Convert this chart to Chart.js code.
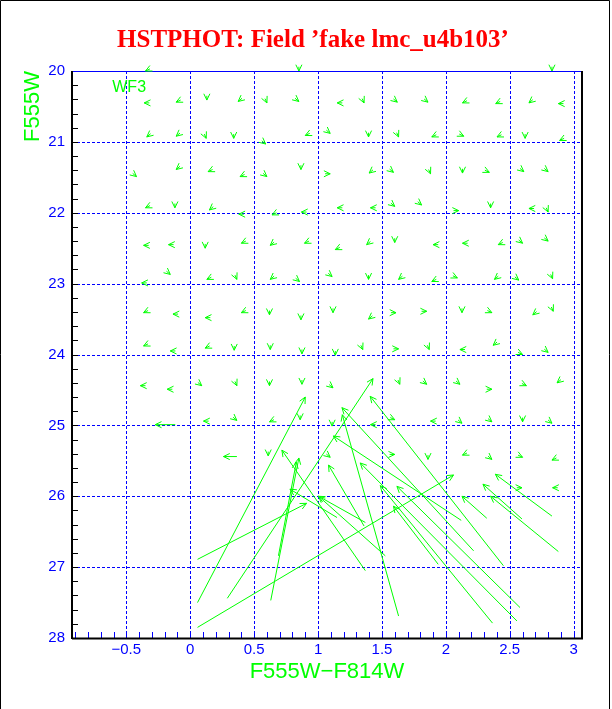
<!DOCTYPE html>
<html><head><meta charset="utf-8">
<script src="https://cdn.jsdelivr.net/npm/chart.js@4/dist/chart.umd.min.js"></script>
<style>html,body{margin:0;padding:0;background:#fff}</style>
</head><body>
<canvas id="c" width="612" height="709"></canvas>
<script>
const chartTitle = "HSTPHOT: Field \u2019fake lmc_u4b103\u2019";
const xTitle = "F555W\u2212F814W";
const yTitle = "F555W";
const chipLabel = "WF3";
const xTicks = [-0.5, 0, 0.5, 1, 1.5, 2, 2.5, 3];
const yTicks = [20, 21, 22, 23, 24, 25, 26, 27, 28];
const gridX = [-0.5, 0, 0.5, 1, 1.5, 2, 2.5, 3];
const gridY = [21, 22, 23, 24, 25, 26, 27];

// input (tail) and recovered (head) positions of the fake stars
const tailX = [-0.315,0.85,2.83,
 -0.32,-0.075,0.13,0.405,0.585,0.82,1.19,1.345,1.59,1.83,2.165,2.425,2.68,2.92,
 -0.31,-0.08,0.11,0.34,0.56,0.935,1.065,1.395,1.615,1.925,2.105,2.435,2.62,2.925,
 -0.45,-0.08,0.175,0.425,0.57,0.866,1.055,1.43,1.56,1.865,2.13,2.305,2.58,2.77,
 -0.315,-0.12,0.18,0.42,0.675,0.91,1.19,1.45,1.57,1.78,2.06,2.35,2.69,2.785,
 -0.325,-0.13,0.117,0.435,0.656,0.929,1.17,1.41,1.60,1.94,2.17,2.445,2.57,2.77,
 -0.34,-0.186,0.165,0.35,0.656,0.825,1.08,1.395,1.66,1.925,2.055,2.41,2.54,2.82,
 -0.33,-0.095,0.157,0.435,0.62,0.866,1.117,1.425,1.57,1.81,2.126,2.325,2.71,2.825,
 -0.33,-0.116,0.152,0.344,0.626,0.874,1.135,1.335,1.59,1.855,2.15,2.40,2.565,2.77,
 -0.35,-0.14,0.06,0.35,0.62,0.874,1.087,1.625,1.82,2.08,2.32,2.595,2.90,
 0.144,-0.117,0.335,0.655,0.86,1.11,1.45,1.565,1.92,2.096,2.33,2.60,2.80,
 0.365,0.61,1.065,1.56,1.86,2.165,2.33,2.565,2.865,
 2.555,2.875,
 0.057,0.057,0.057,0.29,0.63,0.69,
 2.45,2.217,1.63,2.12,1.36,1.37,1.526,1.37,1.148,2.556,2.58,2.365,2.83,2.595,2.88,2.32,1.94];
const tailY = [19.97,19.94,19.94,
 20.45,20.41,20.35,20.385,20.39,20.385,20.45,20.39,20.395,20.395,20.42,20.43,20.405,20.46,
 20.885,20.875,20.89,20.89,20.985,20.88,20.835,20.87,20.87,20.90,20.89,20.90,20.89,20.95,
 21.445,21.345,21.39,21.46,21.445,21.33,21.45,21.395,21.385,21.39,21.38,21.40,21.375,21.375,
 21.90,21.87,21.915,22.02,22.0,21.99,21.93,21.93,21.865,21.845,21.97,21.87,21.94,21.93,
 22.46,22.45,22.44,22.40,22.415,22.40,22.49,22.405,22.36,22.45,22.43,22.42,22.385,22.355,
 22.99,22.825,22.91,22.88,22.895,22.925,22.855,22.88,22.895,22.94,22.89,22.895,22.905,22.87,
 23.38,23.43,23.48,23.38,23.38,23.45,23.35,23.455,23.41,23.39,23.35,23.38,23.395,23.33,
 23.85,23.95,23.88,23.88,23.87,23.93,23.95,23.87,23.92,23.87,23.93,23.825,23.97,23.925,
 24.44,24.49,24.395,24.38,24.38,24.36,24.425,24.36,24.375,24.375,24.49,24.41,24.355,
 24.94,24.99,24.885,24.92,24.86,24.95,24.99,24.89,24.94,24.925,24.905,24.89,24.925,
 25.44,25.37,25.405,25.41,25.42,25.39,25.435,25.42,25.46,
 25.88,25.88,
 27.50,26.89,27.85,27.44,27.47,26.84,
 26.98,26.77,27.69,26.34,26.42,26.37,26.84,27.05,26.30,27.76,27.57,27.79,26.28,26.32,26.78,26.31,26.96];
const headX = [-0.35,0.85,2.83,
 -0.36,-0.11,0.13,0.375,0.60,0.85,1.15,1.36,1.62,1.86,2.13,2.39,2.65,2.88,
 -0.34,-0.11,0.125,0.34,0.59,0.90,1.095,1.395,1.63,1.89,2.14,2.40,2.62,2.89,
 -0.42,-0.11,0.14,0.39,0.60,0.866,1.095,1.40,1.59,1.88,2.13,2.34,2.61,2.80,
 -0.35,-0.12,0.15,0.38,0.64,0.87,1.15,1.41,1.60,1.81,2.10,2.35,2.65,2.80,
 -0.365,-0.17,0.117,0.40,0.626,0.894,1.135,1.38,1.60,1.90,2.13,2.41,2.60,2.80,
 -0.38,-0.156,0.13,0.365,0.626,0.855,1.11,1.395,1.63,1.89,2.09,2.38,2.57,2.835,
 -0.365,-0.135,0.117,0.40,0.62,0.866,1.117,1.395,1.61,1.85,2.126,2.36,2.68,2.84,
 -0.365,-0.156,0.117,0.344,0.626,0.874,1.135,1.35,1.63,1.87,2.11,2.37,2.60,2.80,
 -0.39,-0.18,0.09,0.365,0.62,0.874,1.117,1.64,1.85,2.11,2.36,2.63,2.87,
 0.104,-0.274,0.365,0.62,0.86,1.11,1.41,1.60,1.88,2.126,2.36,2.60,2.83,
 0.26,0.61,1.095,1.60,1.86,2.13,2.36,2.60,2.83,
 2.595,2.835,
 0.90,0.91,2.06,1.43,0.85,0.83,
 1.408,1.187,1.19,1.12,1.082,1.004,1.004,0.717,0.78,1.33,1.617,1.487,2.387,2.29,2.35,2.126,1.59];
const headY = [20.0,20.0,20.0,
 20.45,20.44,20.41,20.43,20.45,20.43,20.45,20.45,20.44,20.44,20.45,20.46,20.45,20.46,
 20.93,20.92,20.95,20.95,21.03,20.91,20.88,20.93,20.93,20.93,20.92,20.93,20.95,20.98,
 21.49,21.39,21.42,21.49,21.49,21.39,21.45,21.44,21.43,21.45,21.44,21.43,21.42,21.42,
 21.93,21.93,21.96,22.02,22.03,21.99,21.93,21.93,21.91,21.89,21.97,21.93,21.94,21.99,
 22.46,22.45,22.50,22.43,22.46,22.43,22.52,22.45,22.42,22.45,22.43,22.45,22.43,22.40,
 22.99,22.87,22.94,22.94,22.94,22.97,22.90,22.94,22.94,22.97,22.92,22.94,22.95,22.93,
 23.41,23.43,23.48,23.41,23.44,23.51,23.41,23.50,23.41,23.39,23.41,23.41,23.44,23.39,
 23.88,23.95,23.91,23.94,23.93,23.99,24.01,23.93,23.92,23.93,23.93,23.87,24.00,23.97,
 24.44,24.49,24.44,24.44,24.44,24.42,24.47,24.42,24.42,24.42,24.49,24.44,24.40,
 24.94,24.99,24.93,24.95,24.92,25.01,24.99,24.92,24.94,24.97,24.95,24.95,24.97,
 25.44,25.43,25.45,25.41,25.48,25.42,25.48,25.45,25.49,
 25.88,25.88,
 24.60,26.10,25.70,24.34,25.46,25.52,
 24.59,24.75,24.85,25.15,25.56,26.0,26.0,25.35,25.9,25.53,25.86,25.85,25.69,25.83,26.0,26.0,26.14];

const GREEN = '#00ff00', BLUE = '#0000ff', RED = '#ff0000';
const SANS = '"Liberation Sans", "DejaVu Sans", sans-serif';

const deco = {
  id: 'deco',
  beforeDraw(chart) {
    const c = chart.ctx;
    c.save(); c.fillStyle = '#fff'; c.fillRect(0, 0, chart.width, chart.height); c.restore();
  },
  beforeDatasetsDraw(chart) {
    const {ctx, chartArea: a, scales: {x, y}} = chart;
    const L = (x0, y0, x1, y1) => { ctx.beginPath(); ctx.moveTo(x0, y0); ctx.lineTo(x1, y1); ctx.stroke(); };
    ctx.save();
    ctx.lineWidth = 1;
    ctx.strokeStyle = BLUE;
    ctx.setLineDash([3, 2]);
    gridX.forEach(v => { const p = Math.round(x.getPixelForValue(v)) + 0.5; L(p, a.top, p, a.bottom); });
    gridY.forEach(v => { const p = Math.round(y.getPixelForValue(v)) + 0.5; L(a.left, p, a.right, p); });
    ctx.setLineDash([]);
    // top edge (y = 20)
    const pt = Math.round(y.getPixelForValue(20)) + 0.5;
    L(a.left, pt, a.right, pt);
    // minor ticks on the bottom axis
    for (let k = -9; k <= 30; k++) {
      const p = Math.round(x.getPixelForValue(k / 10)) + 0.5;
      L(p, a.bottom, p, a.bottom - 6);
    }
    // minor ticks on the left axis
    ctx.strokeStyle = '#000';
    for (let k = 1; k < 40; k++) {
      const p = Math.round(y.getPixelForValue(20 + k * 0.2)) + 0.5;
      L(a.left, p, a.left + 6, p);
    }
    // axes
    ctx.lineWidth = 2;
    L(Math.round(a.left), a.top, Math.round(a.left), a.bottom + 1);
    L(a.left, Math.round(a.bottom) + 0.5, a.right + 1, Math.round(a.bottom) + 0.5);
    L(Math.round(a.right), a.top, Math.round(a.right), a.bottom + 1);
    ctx.restore();
  },
  afterDatasetsDraw(chart) {
    const {ctx, chartArea: a, scales: {x, y}} = chart;
    ctx.save();
    ctx.strokeStyle = GREEN;
    ctx.lineWidth = 1;
    for (let i = 0; i < headX.length; i++) {
      const x0 = x.getPixelForValue(tailX[i]), y0 = y.getPixelForValue(tailY[i]);
      const x1 = x.getPixelForValue(headX[i]), y1 = y.getPixelForValue(headY[i]);
      const ang = Math.atan2(y1 - y0, x1 - x0);
      ctx.beginPath();
      ctx.moveTo(x0, y0); ctx.lineTo(x1, y1);
      const h = 7, s = 0.45;
      ctx.moveTo(x1 - h * Math.cos(ang - s), y1 - h * Math.sin(ang - s));
      ctx.lineTo(x1, y1);
      ctx.lineTo(x1 - h * Math.cos(ang + s), y1 - h * Math.sin(ang + s));
      ctx.stroke();
    }
    // chip label
    ctx.fillStyle = GREEN;
    ctx.font = '16px ' + SANS;
    ctx.textAlign = 'left'; ctx.textBaseline = 'middle';
    ctx.fillText(chipLabel, x.getPixelForValue(-0.61), y.getPixelForValue(20.24));
    // y axis title (top aligned)
    ctx.save();
    ctx.translate(33, a.top);
    ctx.rotate(-Math.PI / 2);
    ctx.font = '22px ' + SANS;
    ctx.textAlign = 'right'; ctx.textBaseline = 'middle';
    ctx.fillText(yTitle, 0, 0);
    ctx.restore();
    // chart title
    ctx.fillStyle = RED;
    ctx.font = 'bold 25px "Liberation Serif", "DejaVu Serif", serif';
    ctx.textAlign = 'center'; ctx.textBaseline = 'alphabetic';
    ctx.fillText(chartTitle, 313, 47);
    // page frame
    ctx.strokeStyle = '#000'; ctx.lineWidth = 1;
    ctx.beginPath();
    ctx.moveTo(0.5, chart.height); ctx.lineTo(0.5, 0.5); ctx.lineTo(609.5, 0.5); ctx.lineTo(609.5, chart.height);
    ctx.stroke();
    ctx.restore();
  }
};

new Chart(document.getElementById('c'), {
  type: 'scatter',
  data: { datasets: [{ data: headX.map((v, i) => ({x: v, y: headY[i]})), pointRadius: 0, showLine: false }] },
  options: {
    responsive: false,
    animation: false,
    devicePixelRatio: 1,
    layout: { padding: { left: 0, right: 30, top: 71, bottom: 0 } },
    plugins: {
      legend: { display: false },
      tooltip: { enabled: false },
      title: { display: false }
    },
    scales: {
      x: {
        type: 'linear', min: -0.925, max: 3.065,
        afterBuildTicks: s => { s.ticks = xTicks.map(v => ({value: v})); },
        ticks: { color: BLUE, font: { family: SANS, size: 15 }, padding: 3, maxRotation: 0, autoSkip: false,
          callback: v => (v < 0 ? '\u2212' + Math.abs(v) : String(v)) },
        grid: { display: false, drawTicks: false },
        border: { display: false },
        title: { display: true, text: xTitle, color: GREEN, font: { family: SANS, size: 22 }, padding: { top: 0, bottom: 24 } },
        afterFit: s => { s.height = 71; }
      },
      y: {
        type: 'linear', min: 20, max: 28, reverse: true,
        afterBuildTicks: s => { s.ticks = yTicks.map(v => ({value: v})); },
        ticks: { color: BLUE, font: { family: SANS, size: 15 }, padding: 7, autoSkip: false },
        grid: { display: false, drawTicks: false },
        border: { display: false },
        afterFit: s => { s.width = 72; }
      }
    }
  },
  plugins: [deco]
});
</script>
</body></html>
